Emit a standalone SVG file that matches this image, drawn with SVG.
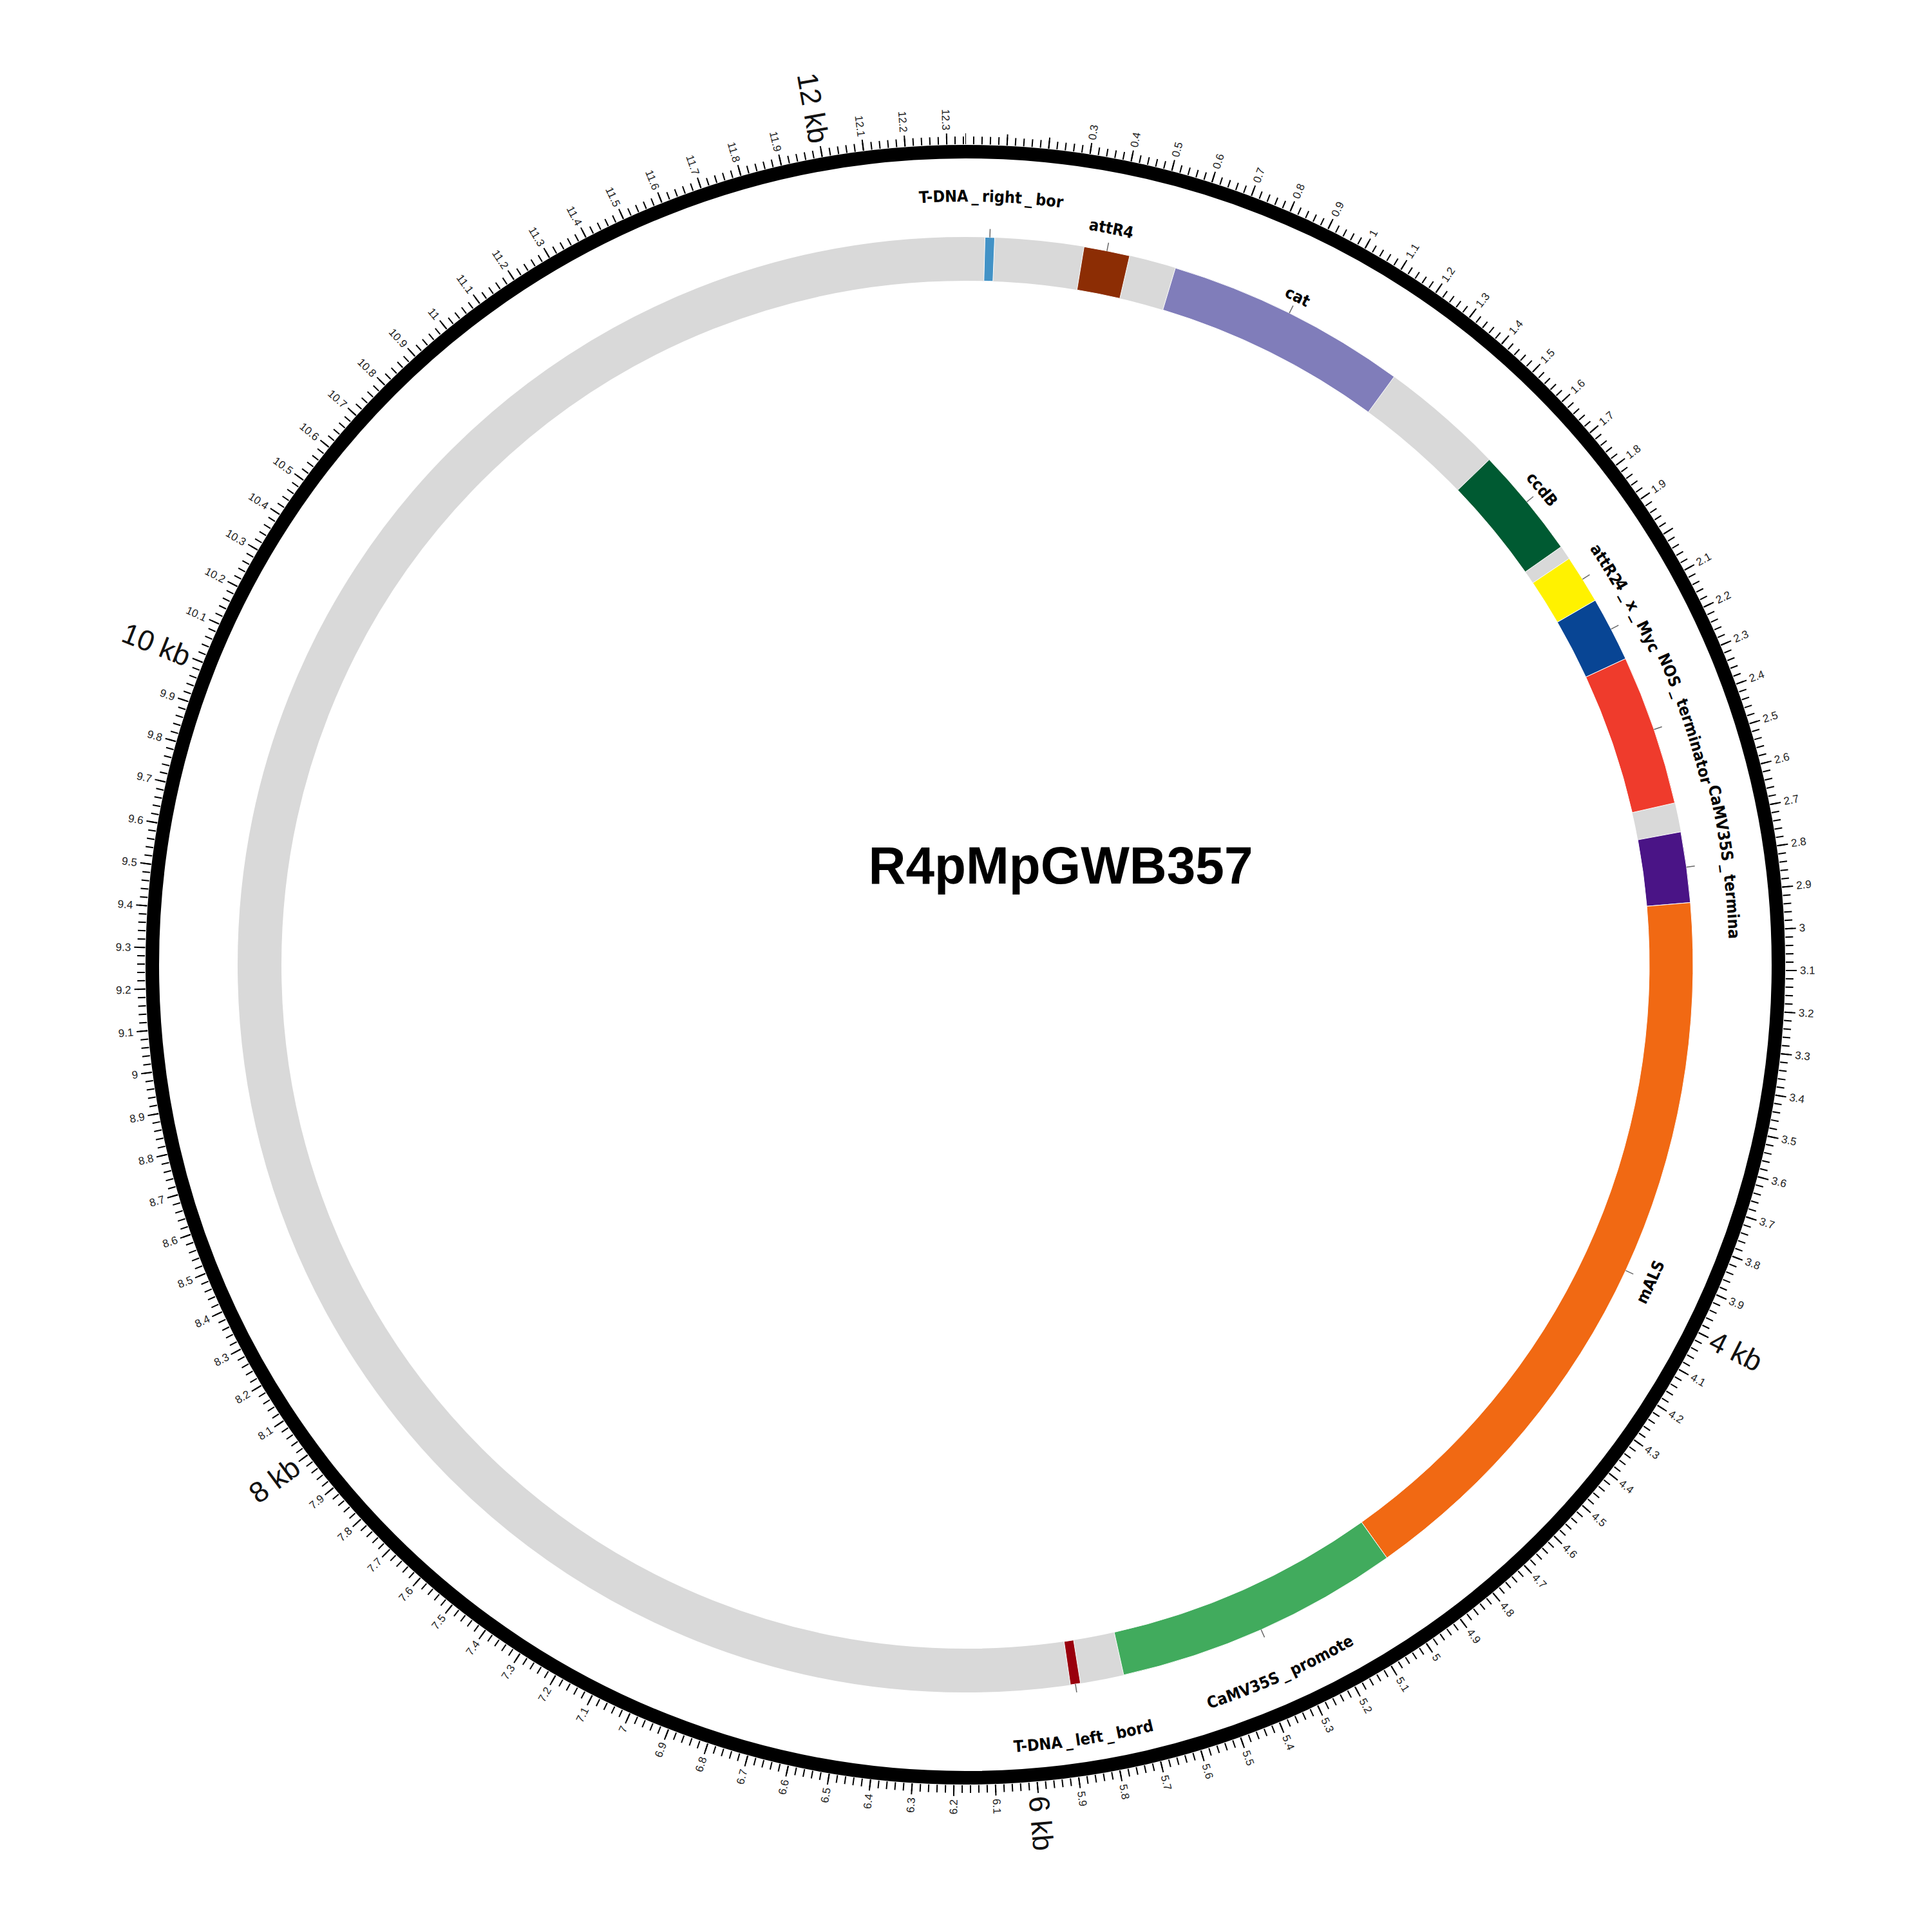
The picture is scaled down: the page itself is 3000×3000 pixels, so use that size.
<svg xmlns="http://www.w3.org/2000/svg" width="3000" height="3000" viewBox="0 0 3000 3000">
<style>
.tk{font-family:"Liberation Sans",Arial,sans-serif;font-size:17px;fill:#222;dominant-baseline:central}
.kb{font-family:"Liberation Sans",Arial,sans-serif;font-size:45px;fill:#111;dominant-baseline:central}
.r{text-anchor:start}
.l{text-anchor:end}
.lab{font-family:"DejaVu Sans Condensed","DejaVu Sans",sans-serif;font-stretch:condensed;font-weight:bold;font-size:25px;fill:#000}
.ldr{stroke:#666;stroke-width:1.5}
.feat{stroke:#fff;stroke-width:1}
.title{font-family:"Liberation Sans",Arial,sans-serif;font-weight:bold;font-size:82px;fill:#000}
</style>
<defs>
<path id="cw1185" d="M-1185,0 A1185,1185 0 0 1 1185,0"/>
<path id="cw1157" d="M-1157,0 A1157,1157 0 0 1 1157,0"/>
<path id="cw1150" d="M-1150,0 A1150,1150 0 0 1 1150,0"/>
<path id="cw1152" d="M-1152,0 A1152,1152 0 0 1 1152,0"/>
<path id="cw1165" d="M-1165,0 A1165,1165 0 0 1 1165,0"/>
<path id="cw1168" d="M-1168,0 A1168,1168 0 0 1 1168,0"/>
<path id="cw1177" d="M-1177,0 A1177,1177 0 0 1 1177,0"/>
<path id="cw1186" d="M-1186,0 A1186,1186 0 0 1 1186,0"/>
<path id="ccw1181" d="M-1181,0 A1181,1181 0 0 0 1181,0"/>
<path id="ccw1216" d="M-1216,0 A1216,1216 0 0 0 1216,0"/>
<path id="ccw1225" d="M-1225,0 A1225,1225 0 0 0 1225,0"/>
</defs>
<rect width="3000" height="3000" fill="#fff"/>
<g transform="translate(1499,1498)">
<g id="axis">
<circle r="1262.5" fill="none" stroke="#000" stroke-width="21"/>
<circle r="1280" fill="none" stroke="#000" stroke-width="12" stroke-dasharray="2 11.0285" stroke-dashoffset="1" transform="rotate(-90)"/>
<circle r="1282.5" fill="none" stroke="#000" stroke-width="17" stroke-dasharray="2 63.270" stroke-dashoffset="1" transform="rotate(-90)"/>
</g>
<g id="tick-labels">
<text class="tk r" transform="rotate(8.748) translate(0,-1296) rotate(-90)">0.3</text>
<text class="tk r" transform="rotate(11.664) translate(0,-1296) rotate(-90)">0.4</text>
<text class="tk r" transform="rotate(14.580) translate(0,-1296) rotate(-90)">0.5</text>
<text class="tk r" transform="rotate(17.496) translate(0,-1296) rotate(-90)">0.6</text>
<text class="tk r" transform="rotate(20.412) translate(0,-1296) rotate(-90)">0.7</text>
<text class="tk r" transform="rotate(23.327) translate(0,-1296) rotate(-90)">0.8</text>
<text class="tk r" transform="rotate(26.243) translate(0,-1296) rotate(-90)">0.9</text>
<text class="tk r" transform="rotate(29.159) translate(0,-1296) rotate(-90)">1</text>
<text class="tk r" transform="rotate(32.075) translate(0,-1296) rotate(-90)">1.1</text>
<text class="tk r" transform="rotate(34.991) translate(0,-1296) rotate(-90)">1.2</text>
<text class="tk r" transform="rotate(37.907) translate(0,-1296) rotate(-90)">1.3</text>
<text class="tk r" transform="rotate(40.823) translate(0,-1296) rotate(-90)">1.4</text>
<text class="tk r" transform="rotate(43.739) translate(0,-1296) rotate(-90)">1.5</text>
<text class="tk r" transform="rotate(46.655) translate(0,-1296) rotate(-90)">1.6</text>
<text class="tk r" transform="rotate(49.571) translate(0,-1296) rotate(-90)">1.7</text>
<text class="tk r" transform="rotate(52.487) translate(0,-1296) rotate(-90)">1.8</text>
<text class="tk r" transform="rotate(55.403) translate(0,-1296) rotate(-90)">1.9</text>
<text class="tk r" transform="rotate(61.235) translate(0,-1296) rotate(-90)">2.1</text>
<text class="tk r" transform="rotate(64.150) translate(0,-1296) rotate(-90)">2.2</text>
<text class="tk r" transform="rotate(67.066) translate(0,-1296) rotate(-90)">2.3</text>
<text class="tk r" transform="rotate(69.982) translate(0,-1296) rotate(-90)">2.4</text>
<text class="tk r" transform="rotate(72.898) translate(0,-1296) rotate(-90)">2.5</text>
<text class="tk r" transform="rotate(75.814) translate(0,-1296) rotate(-90)">2.6</text>
<text class="tk r" transform="rotate(78.730) translate(0,-1296) rotate(-90)">2.7</text>
<text class="tk r" transform="rotate(81.646) translate(0,-1296) rotate(-90)">2.8</text>
<text class="tk r" transform="rotate(84.562) translate(0,-1296) rotate(-90)">2.9</text>
<text class="tk r" transform="rotate(87.478) translate(0,-1296) rotate(-90)">3</text>
<text class="tk r" transform="rotate(90.394) translate(0,-1296) rotate(-90)">3.1</text>
<text class="tk r" transform="rotate(93.310) translate(0,-1296) rotate(-90)">3.2</text>
<text class="tk r" transform="rotate(96.226) translate(0,-1296) rotate(-90)">3.3</text>
<text class="tk r" transform="rotate(99.142) translate(0,-1296) rotate(-90)">3.4</text>
<text class="tk r" transform="rotate(102.058) translate(0,-1296) rotate(-90)">3.5</text>
<text class="tk r" transform="rotate(104.973) translate(0,-1296) rotate(-90)">3.6</text>
<text class="tk r" transform="rotate(107.889) translate(0,-1296) rotate(-90)">3.7</text>
<text class="tk r" transform="rotate(110.805) translate(0,-1296) rotate(-90)">3.8</text>
<text class="tk r" transform="rotate(113.721) translate(0,-1296) rotate(-90)">3.9</text>
<text class="tk r" transform="rotate(119.553) translate(0,-1296) rotate(-90)">4.1</text>
<text class="tk r" transform="rotate(122.469) translate(0,-1296) rotate(-90)">4.2</text>
<text class="tk r" transform="rotate(125.385) translate(0,-1296) rotate(-90)">4.3</text>
<text class="tk r" transform="rotate(128.301) translate(0,-1296) rotate(-90)">4.4</text>
<text class="tk r" transform="rotate(131.217) translate(0,-1296) rotate(-90)">4.5</text>
<text class="tk r" transform="rotate(134.133) translate(0,-1296) rotate(-90)">4.6</text>
<text class="tk r" transform="rotate(137.049) translate(0,-1296) rotate(-90)">4.7</text>
<text class="tk r" transform="rotate(139.965) translate(0,-1296) rotate(-90)">4.8</text>
<text class="tk r" transform="rotate(142.881) translate(0,-1296) rotate(-90)">4.9</text>
<text class="tk r" transform="rotate(145.797) translate(0,-1296) rotate(-90)">5</text>
<text class="tk r" transform="rotate(148.712) translate(0,-1296) rotate(-90)">5.1</text>
<text class="tk r" transform="rotate(151.628) translate(0,-1296) rotate(-90)">5.2</text>
<text class="tk r" transform="rotate(154.544) translate(0,-1296) rotate(-90)">5.3</text>
<text class="tk r" transform="rotate(157.460) translate(0,-1296) rotate(-90)">5.4</text>
<text class="tk r" transform="rotate(160.376) translate(0,-1296) rotate(-90)">5.5</text>
<text class="tk r" transform="rotate(163.292) translate(0,-1296) rotate(-90)">5.6</text>
<text class="tk r" transform="rotate(166.208) translate(0,-1296) rotate(-90)">5.7</text>
<text class="tk r" transform="rotate(169.124) translate(0,-1296) rotate(-90)">5.8</text>
<text class="tk r" transform="rotate(172.040) translate(0,-1296) rotate(-90)">5.9</text>
<text class="tk r" transform="rotate(177.872) translate(0,-1296) rotate(-90)">6.1</text>
<text class="tk l" transform="rotate(180.788) translate(0,-1296) rotate(90)">6.2</text>
<text class="tk l" transform="rotate(183.704) translate(0,-1296) rotate(90)">6.3</text>
<text class="tk l" transform="rotate(186.620) translate(0,-1296) rotate(90)">6.4</text>
<text class="tk l" transform="rotate(189.535) translate(0,-1296) rotate(90)">6.5</text>
<text class="tk l" transform="rotate(192.451) translate(0,-1296) rotate(90)">6.6</text>
<text class="tk l" transform="rotate(195.367) translate(0,-1296) rotate(90)">6.7</text>
<text class="tk l" transform="rotate(198.283) translate(0,-1296) rotate(90)">6.8</text>
<text class="tk l" transform="rotate(201.199) translate(0,-1296) rotate(90)">6.9</text>
<text class="tk l" transform="rotate(204.115) translate(0,-1296) rotate(90)">7</text>
<text class="tk l" transform="rotate(207.031) translate(0,-1296) rotate(90)">7.1</text>
<text class="tk l" transform="rotate(209.947) translate(0,-1296) rotate(90)">7.2</text>
<text class="tk l" transform="rotate(212.863) translate(0,-1296) rotate(90)">7.3</text>
<text class="tk l" transform="rotate(215.779) translate(0,-1296) rotate(90)">7.4</text>
<text class="tk l" transform="rotate(218.695) translate(0,-1296) rotate(90)">7.5</text>
<text class="tk l" transform="rotate(221.611) translate(0,-1296) rotate(90)">7.6</text>
<text class="tk l" transform="rotate(224.527) translate(0,-1296) rotate(90)">7.7</text>
<text class="tk l" transform="rotate(227.443) translate(0,-1296) rotate(90)">7.8</text>
<text class="tk l" transform="rotate(230.358) translate(0,-1296) rotate(90)">7.9</text>
<text class="tk l" transform="rotate(236.190) translate(0,-1296) rotate(90)">8.1</text>
<text class="tk l" transform="rotate(239.106) translate(0,-1296) rotate(90)">8.2</text>
<text class="tk l" transform="rotate(242.022) translate(0,-1296) rotate(90)">8.3</text>
<text class="tk l" transform="rotate(244.938) translate(0,-1296) rotate(90)">8.4</text>
<text class="tk l" transform="rotate(247.854) translate(0,-1296) rotate(90)">8.5</text>
<text class="tk l" transform="rotate(250.770) translate(0,-1296) rotate(90)">8.6</text>
<text class="tk l" transform="rotate(253.686) translate(0,-1296) rotate(90)">8.7</text>
<text class="tk l" transform="rotate(256.602) translate(0,-1296) rotate(90)">8.8</text>
<text class="tk l" transform="rotate(259.518) translate(0,-1296) rotate(90)">8.9</text>
<text class="tk l" transform="rotate(262.434) translate(0,-1296) rotate(90)">9</text>
<text class="tk l" transform="rotate(265.350) translate(0,-1296) rotate(90)">9.1</text>
<text class="tk l" transform="rotate(268.266) translate(0,-1296) rotate(90)">9.2</text>
<text class="tk l" transform="rotate(271.181) translate(0,-1296) rotate(90)">9.3</text>
<text class="tk l" transform="rotate(274.097) translate(0,-1296) rotate(90)">9.4</text>
<text class="tk l" transform="rotate(277.013) translate(0,-1296) rotate(90)">9.5</text>
<text class="tk l" transform="rotate(279.929) translate(0,-1296) rotate(90)">9.6</text>
<text class="tk l" transform="rotate(282.845) translate(0,-1296) rotate(90)">9.7</text>
<text class="tk l" transform="rotate(285.761) translate(0,-1296) rotate(90)">9.8</text>
<text class="tk l" transform="rotate(288.677) translate(0,-1296) rotate(90)">9.9</text>
<text class="tk l" transform="rotate(294.509) translate(0,-1296) rotate(90)">10.1</text>
<text class="tk l" transform="rotate(297.425) translate(0,-1296) rotate(90)">10.2</text>
<text class="tk l" transform="rotate(300.341) translate(0,-1296) rotate(90)">10.3</text>
<text class="tk l" transform="rotate(303.257) translate(0,-1296) rotate(90)">10.4</text>
<text class="tk l" transform="rotate(306.173) translate(0,-1296) rotate(90)">10.5</text>
<text class="tk l" transform="rotate(309.089) translate(0,-1296) rotate(90)">10.6</text>
<text class="tk l" transform="rotate(312.004) translate(0,-1296) rotate(90)">10.7</text>
<text class="tk l" transform="rotate(314.920) translate(0,-1296) rotate(90)">10.8</text>
<text class="tk l" transform="rotate(317.836) translate(0,-1296) rotate(90)">10.9</text>
<text class="tk l" transform="rotate(320.752) translate(0,-1296) rotate(90)">11</text>
<text class="tk l" transform="rotate(323.668) translate(0,-1296) rotate(90)">11.1</text>
<text class="tk l" transform="rotate(326.584) translate(0,-1296) rotate(90)">11.2</text>
<text class="tk l" transform="rotate(329.500) translate(0,-1296) rotate(90)">11.3</text>
<text class="tk l" transform="rotate(332.416) translate(0,-1296) rotate(90)">11.4</text>
<text class="tk l" transform="rotate(335.332) translate(0,-1296) rotate(90)">11.5</text>
<text class="tk l" transform="rotate(338.248) translate(0,-1296) rotate(90)">11.6</text>
<text class="tk l" transform="rotate(341.164) translate(0,-1296) rotate(90)">11.7</text>
<text class="tk l" transform="rotate(344.080) translate(0,-1296) rotate(90)">11.8</text>
<text class="tk l" transform="rotate(346.996) translate(0,-1296) rotate(90)">11.9</text>
<text class="tk l" transform="rotate(352.827) translate(0,-1296) rotate(90)">12.1</text>
<text class="tk l" transform="rotate(355.743) translate(0,-1296) rotate(90)">12.2</text>
<text class="tk l" transform="rotate(358.659) translate(0,-1296) rotate(90)">12.3</text>
<text class="kb r" transform="rotate(116.637) translate(0,-1296) rotate(-90)">4 kb</text>
<text class="kb r" transform="rotate(174.956) translate(0,-1296) rotate(-90)">6 kb</text>
<text class="kb l" transform="rotate(233.274) translate(0,-1296) rotate(90)">8 kb</text>
<text class="kb l" transform="rotate(291.593) translate(0,-1296) rotate(90)">10 kb</text>
<text class="kb l" transform="rotate(349.912) translate(0,-1296) rotate(90)">12 kb</text>
</g>
<circle id="backbone" r="1096" fill="none" stroke="#d9d9d9" stroke-width="68"/>
<g id="features">
<path id="f-rb" class="feat" fill="#4292c6" d="M30.57,-1129.58 A1130,1130 0 0 1 45.55,-1129.08 L42.81,-1061.14 A1062,1062 0 0 0 28.73,-1061.61 Z"/>
<path id="f-attR4" class="feat" fill="#8c2d04" d="M184.37,-1114.86 A1130,1130 0 0 1 255.15,-1100.81 L239.80,-1034.57 A1062,1062 0 0 0 173.28,-1047.77 Z"/>
<path id="f-cat" class="feat" fill="#807dba" d="M326.23,-1081.88 A1130,1130 0 0 1 665.80,-913.03 L625.73,-858.09 A1062,1062 0 0 0 306.60,-1016.78 Z"/>
<path id="f-ccdB" class="feat" fill="#005a32" d="M813.54,-784.25 A1130,1130 0 0 1 925.07,-648.95 L869.41,-609.90 A1062,1062 0 0 0 764.59,-737.06 Z"/>
<path id="f-attR2" class="feat" fill="#fff200" d="M937.58,-630.74 A1130,1130 0 0 1 978.12,-565.86 L919.26,-531.81 A1062,1062 0 0 0 881.16,-592.79 Z"/>
<path id="f-myc" class="feat" fill="#084594" d="M978.12,-565.86 A1130,1130 0 0 1 1025.22,-475.23 L963.52,-446.63 A1062,1062 0 0 0 919.26,-531.81 Z"/>
<path id="f-nos" class="feat" fill="#ef3b2c" d="M1025.22,-475.23 A1130,1130 0 0 1 1101.70,-251.31 L1035.41,-236.19 A1062,1062 0 0 0 963.52,-446.63 Z"/>
<path id="f-35st" class="feat" fill="#4a1486" d="M1111.00,-206.32 A1130,1130 0 0 1 1125.87,-96.52 L1058.12,-90.72 A1062,1062 0 0 0 1044.15,-193.90 Z"/>
<path id="f-mals" class="feat" fill="#f16913" d="M1125.87,-96.52 A1130,1130 0 0 1 654.59,921.10 L615.19,865.67 A1062,1062 0 0 0 1058.12,-90.72 Z"/>
<path id="f-35sp" class="feat" fill="#41ab5d" d="M654.59,921.10 A1130,1130 0 0 1 245.93,1102.91 L231.13,1036.54 A1062,1062 0 0 0 615.19,865.67 Z"/>
<path id="f-lb" class="feat" fill="#99000d" d="M178.72,1115.77 A1130,1130 0 0 1 163.13,1118.17 L153.31,1050.88 A1062,1062 0 0 0 167.97,1048.63 Z"/>
</g>
<g id="connectors" class="ldr">
<line x1="0" y1="-1130" x2="0" y2="-1143" transform="rotate(1.93)"/>
<line x1="0" y1="-1130" x2="0" y2="-1143" transform="rotate(11.22)"/>
<line x1="0" y1="-1130" x2="0" y2="-1143" transform="rotate(26.44)"/>
<line x1="0" y1="-1130" x2="0" y2="-1143" transform="rotate(50.50)"/>
<line x1="0" y1="-1130" x2="0" y2="-1143" transform="rotate(58.01)"/>
<line x1="0" y1="-1130" x2="0" y2="-1143" transform="rotate(62.54)"/>
<line x1="0" y1="-1130" x2="0" y2="-1143" transform="rotate(71.14)"/>
<line x1="0" y1="-1130" x2="0" y2="-1143" transform="rotate(82.29)"/>
<line x1="0" y1="-1130" x2="0" y2="-1143" transform="rotate(114.85)"/>
<line x1="0" y1="-1130" x2="0" y2="-1143" transform="rotate(156.02)"/>
<line x1="0" y1="-1130" x2="0" y2="-1143" transform="rotate(171.30)"/>
</g>
<g id="feature-labels">
<text class="lab" transform="rotate(1.93)"><textPath href="#cw1185" startOffset="50%" text-anchor="middle">T-DNA<tspan dx="5">_</tspan><tspan dx="5">right</tspan><tspan dx="5">_</tspan><tspan dx="5">bor</tspan></textPath></text>
<text class="lab" transform="rotate(11.22)"><textPath href="#cw1157" startOffset="50%" text-anchor="middle">attR4</textPath></text>
<text class="lab" transform="rotate(26.44)"><textPath href="#cw1150" startOffset="50%" text-anchor="middle">cat</textPath></text>
<text class="lab" transform="rotate(50.50)"><textPath href="#cw1152" startOffset="50%" text-anchor="middle">ccdB</textPath></text>
<text class="lab" transform="rotate(58.01)"><textPath href="#cw1165" startOffset="50%" text-anchor="middle">attR2</textPath></text>
<text class="lab" transform="rotate(62.54)"><textPath href="#cw1168" startOffset="50%" text-anchor="middle">4<tspan dx="5">_</tspan><tspan dx="5">x</tspan><tspan dx="5">_</tspan><tspan dx="5">Myc</tspan></textPath></text>
<text class="lab" transform="rotate(71.14)"><textPath href="#cw1177" startOffset="50%" text-anchor="middle">NOS<tspan dx="5">_</tspan><tspan dx="5">terminator</tspan></textPath></text>
<text class="lab" transform="rotate(82.29)"><textPath href="#cw1186" startOffset="50%" text-anchor="middle">CaMV35S<tspan dx="5">_</tspan><tspan dx="5">termina</tspan></textPath></text>
<text class="lab" transform="rotate(-65.15)"><textPath href="#ccw1181" startOffset="50%" text-anchor="middle">mALS</textPath></text>
<text class="lab" transform="rotate(-23.98)"><textPath href="#ccw1216" startOffset="50%" text-anchor="middle">CaMV35S<tspan dx="5">_</tspan><tspan dx="5">promote</tspan></textPath></text>
<text class="lab" transform="rotate(-8.70)"><textPath href="#ccw1225" startOffset="50%" text-anchor="middle">T-DNA<tspan dx="5">_</tspan><tspan dx="5">left</tspan><tspan dx="5">_</tspan><tspan dx="5">bord</tspan></textPath></text>
</g>
</g>
<g id="title">
<text class="title" x="1647" y="1372" text-anchor="middle" textLength="597" lengthAdjust="spacingAndGlyphs">R4pMpGWB357</text>
</g>
</svg>
